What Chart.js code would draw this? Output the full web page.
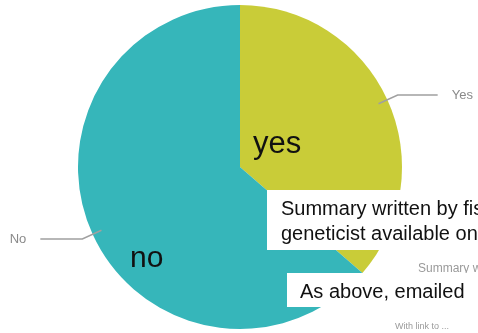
<!DOCTYPE html>
<html>
<head>
<meta charset="utf-8">
<script src="https://cdn.jsdelivr.net/npm/chart.js@4"></script>
<style>
  html, body { margin: 0; padding: 0; background: #fff; overflow: hidden; }
  #wrap { position: relative; width: 478px; height: 333px; overflow: hidden; font-family: "Liberation Sans", Arial, sans-serif; }
  #myChart { position: absolute; left: 0; top: 0; }
  .note { position: absolute; white-space: nowrap; color: #111; }
  .box { position: absolute; background: #fff; }
  .grey { position: absolute; white-space: nowrap; color: #9a9a9a; }
</style>
</head>
<body>
<div id="wrap">
  <canvas id="myChart" width="478" height="333"></canvas>
  <div class="grey" style="left:418px; top:261px; font-size:12px;">Summary written by</div>
  <div class="grey" style="left:395px; top:321px; font-size:9px;">With link to ...</div>
  <div class="note" style="left:253px; top:127px; font-size:31px; line-height:31px;">yes</div>
  <div class="note" style="left:130px; top:242px; font-size:30px; line-height:30px;">no</div>
  <div class="box" style="left:267px; top:190px; width:230px; height:60px;"></div>
  <div class="note" style="left:281px; top:196px; font-size:20px; line-height:25px;">Summary written by fis<br>geneticist available on</div>
  <div class="box" style="left:287px; top:273px; width:210px; height:34px;"></div>
  <div class="note" style="left:300px; top:280px; font-size:20px; line-height:22px;">As above, emailed</div>
</div>
<script>
// DATA
const labels = ["Yes", "No"];
const values = [4, 7];
const colors = ["#c9cc38", "#36b6ba"];

// leader lines + outside labels
const leaderLabels = {
  id: "leaderLabels",
  afterDatasetsDraw(chart) {
    const ctx = chart.ctx;
    const meta = chart.getDatasetMeta(0);
    ctx.save();
    ctx.strokeStyle = "#a0a0a0";
    ctx.lineWidth = 1.5;
    ctx.fillStyle = "#8a8a8a";
    ctx.font = "13px 'Liberation Sans', Arial, sans-serif";
    ctx.textBaseline = "middle";
    meta.data.forEach((arc, i) => {
      const p = arc.getProps(["x", "y", "startAngle", "endAngle", "outerRadius"], true);
      const mid = (p.startAngle + p.endAngle) / 2;
      const r = p.outerRadius;
      const x1 = p.x + Math.cos(mid) * r * 0.94;
      const y1 = p.y + Math.sin(mid) * r * 0.94;
      const x2 = p.x + Math.cos(mid) * r * 1.07;
      const y2 = p.y + Math.sin(mid) * r * 1.07;
      const right = Math.cos(mid) >= 0;
      const x3 = right ? x2 + 40 : x2 - 42;
      ctx.beginPath();
      ctx.moveTo(x1, y1);
      ctx.lineTo(x2, y2);
      ctx.lineTo(x3, y2);
      ctx.stroke();
      ctx.textAlign = right ? "left" : "right";
      ctx.fillText(labels[i], right ? x3 + 14 : x3 - 14, y2);
    });
    ctx.restore();
  },
};

const ctx = document.getElementById("myChart");

new Chart(ctx, {
  type: "pie",
  data: {
    labels: labels,
    datasets: [
      {
        data: values,
        backgroundColor: colors,
        borderWidth: 0,
      },
    ],
  },
  options: {
    responsive: false,
    animation: false,
    layout: {
      padding: { top: 5, bottom: 4, left: 78, right: 76 },
    },
    plugins: {
      legend: { display: false },
      tooltip: { enabled: false },
    },
  },
  plugins: [leaderLabels],
});
</script>
</body>
</html>
